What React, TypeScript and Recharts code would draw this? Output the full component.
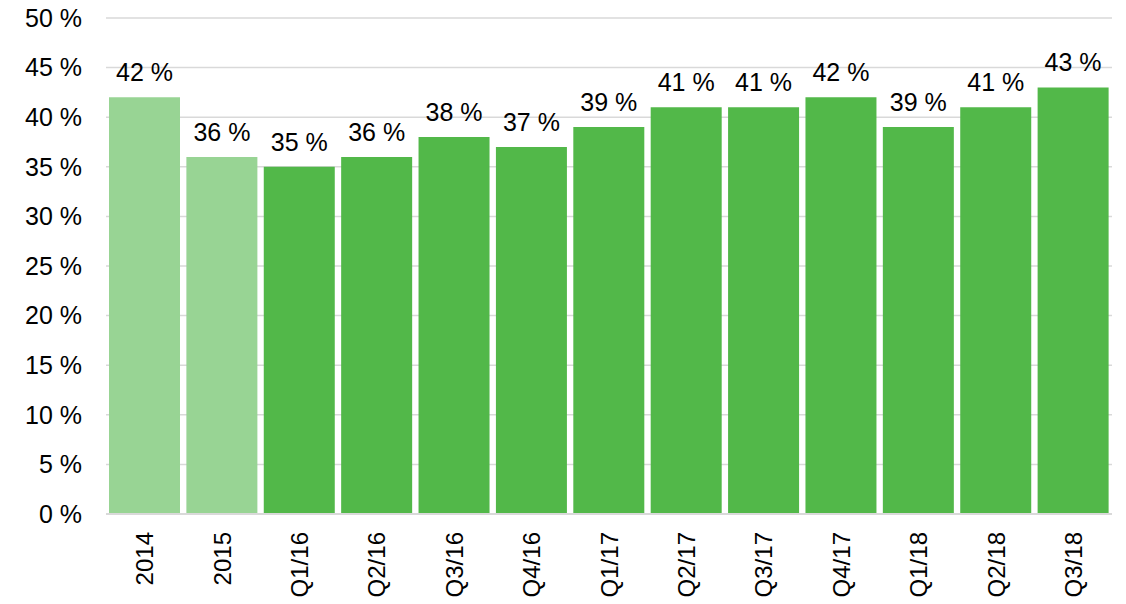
import { BarChart, Bar, XAxis, YAxis, CartesianGrid, Cell, LabelList } from 'recharts';

const periods = ['2014', '2015', 'Q1/16', 'Q2/16', 'Q3/16', 'Q4/16', 'Q1/17', 'Q2/17', 'Q3/17', 'Q4/17', 'Q1/18', 'Q2/18', 'Q3/18'];
const shares = [42, 36, 35, 36, 38, 37, 39, 41, 41, 42, 39, 41, 43];
const yearly = ['2014', '2015'];
const yTicks = [0, 5, 10, 15, 20, 25, 30, 35, 40, 45, 50];

const data = periods.map((period, i) => ({ period, share: shares[i] }));

const FONT = '"Liberation Sans", Arial, sans-serif';

const RotatedTick = ({ x, y, payload }: any) => (
  <g transform={`translate(${x},${y})`}>
    <text
      transform="rotate(-90)"
      x={-10}
      y={0}
      dy="0.36em"
      textAnchor="end"
      fill="#000"
      fontSize={24}
      fontFamily={FONT}
    >
      {payload.value}
    </text>
  </g>
);

const App = () => {
  return (
    <div style={{ position: 'absolute', left: 0, top: 0, background: '#fff' }}>
      <BarChart
        width={1126}
        height={604}
        data={data}
        margin={{ top: 18, right: 14, left: 0, bottom: 0 }}
        barCategoryGap={3}
      >
        <CartesianGrid vertical={false} stroke="#d9d9d9" strokeWidth={1.5} />
        <XAxis
          dataKey="period"
          height={90}
          interval={0}
          tickLine={false}
          axisLine={{ stroke: '#d9d9d9', strokeWidth: 2 }}
          tick={<RotatedTick />}
        />
        <YAxis
          width={106}
          domain={[0, 50]}
          ticks={yTicks}
          interval={0}
          axisLine={false}
          tickLine={false}
          tickSize={0}
          tickMargin={24}
          tickFormatter={(v: number) => `${v} %`}
          tick={{ fill: '#000', fontSize: 25, fontFamily: FONT }}
        />
        <Bar dataKey="share" isAnimationActive={false}>
          {data.map((d) => (
            <Cell key={d.period} fill={yearly.includes(d.period) ? '#98d494' : '#52b849'} />
          ))}
          <LabelList
            dataKey="share"
            position="top"
            offset={16}
            formatter={(v: any) => `${v} %`}
            style={{ fill: '#000', fontSize: 25, fontFamily: FONT }}
          />
        </Bar>
      </BarChart>
    </div>
  );
};

export default App;
